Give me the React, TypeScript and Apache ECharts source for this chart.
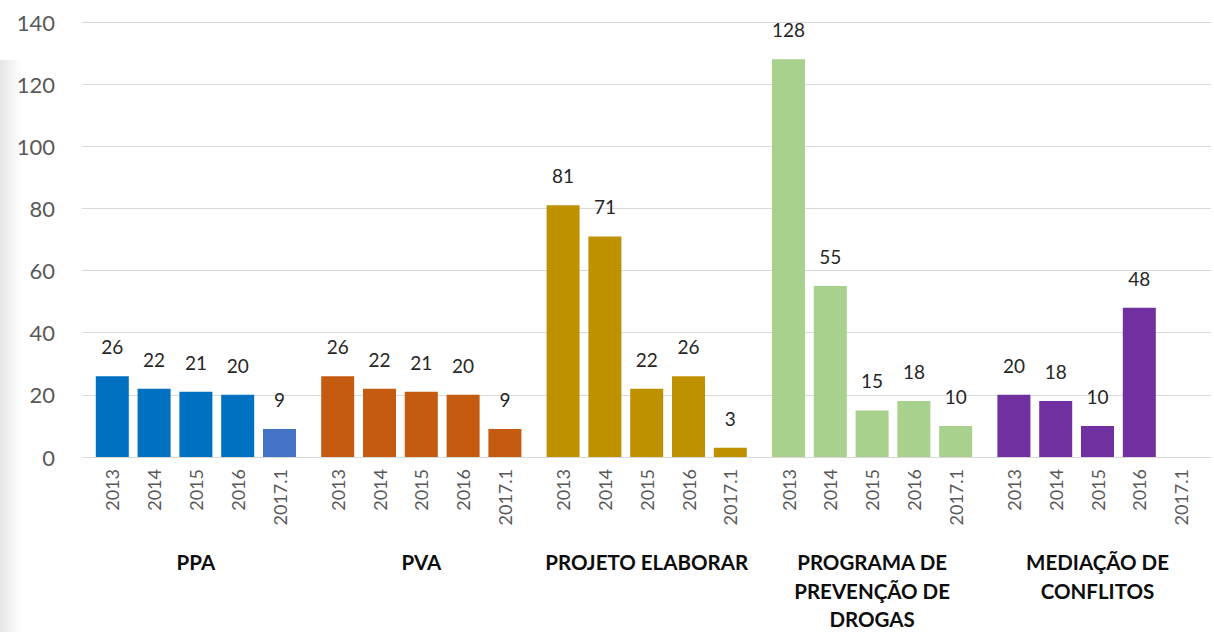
import React, { useEffect, useRef } from "react";
import * as echarts from "echarts";

const groups = [
  "PPA",
  "PVA",
  "PROJETO ELABORAR",
  "PROGRAMA DE\nPREVENÇÃO DE\nDROGAS",
  "MEDIAÇÃO DE\nCONFLITOS",
];
const years = ["2013", "2014", "2015", "2016", "2017.1"];
const ppa = [26, 22, 21, 20, 9];
const pva = [26, 22, 21, 20, 9];
const elaborar = [81, 71, 22, 26, 3];
const drogas = [128, 55, 15, 18, 10];
const mediacao = [20, 18, 10, 48, null];
const groupValues = [ppa, pva, elaborar, drogas, mediacao];
const groupColors = ["#0070C0", "#C55A11", "#BF9000", "#A9D18E", "#7030A0"];
const yTicks = { min: 0, max: 140, interval: 20 };

export default function App() {
  const ref = useRef<HTMLDivElement>(null);
  useEffect(() => {
    document.body.style.margin = "0";
    const chart = echarts.init(ref.current!, null, { renderer: "svg" });
    const top = 22;
    const bottom = 175;
    const plotLeft = 82;
    const plotRight = 3;
    const groupStep = 225.4;
    const innerOffset = 9.4;
    const innerWidth = 209;
    const font = "Lato, 'Open Sans', sans-serif";

    const grids: any[] = [
      { left: plotLeft, right: plotRight, top, bottom, outerBoundsMode: "none" },
    ];
    const xAxes: any[] = [
      {
        type: "value",
        gridIndex: 0,
        min: 0,
        max: 1,
        axisLine: { show: true, lineStyle: { color: "#d9d9d9", width: 1 } },
        axisTick: { show: false },
        axisLabel: { show: false },
        splitLine: { show: false },
      },
    ];
    const yAxes: any[] = [
      {
        type: "value",
        gridIndex: 0,
        ...yTicks,
        axisLine: { show: false },
        axisTick: { show: false },
        axisLabel: { fontSize: 22, color: "#595959", margin: 27, fontFamily: font },
        splitLine: { lineStyle: { color: "#d9d9d9", width: 1 } },
      },
    ];
    const series: any[] = [];

    groups.forEach((g, k) => {
      const idx = k + 1;
      grids.push({
        left: plotLeft + innerOffset + groupStep * k,
        width: innerWidth,
        top,
        bottom,
        outerBoundsMode: "none",
      });
      xAxes.push({
        type: "category",
        gridIndex: idx,
        data: years,
        axisLine: { show: false },
        axisTick: { show: false },
        axisLabel: {
          rotate: 90,
          margin: 12,
          fontSize: 18,
          color: "#595959",
          fontFamily: font,
          interval: 0,
        },
        name: g,
        nameLocation: "middle",
        nameGap: 91,
        nameMoveOverlap: false,
        nameTextStyle: {
          fontWeight: "bold",
          fontSize: 20.5,
          color: "#0d0d0d",
          lineHeight: 28.5,
          fontFamily: font,
          align: "center",
        },
      });
      yAxes.push({
        type: "value",
        gridIndex: idx,
        ...yTicks,
        show: false,
        splitLine: { show: false },
      });
      series.push({
        type: "bar",
        name: g,
        xAxisIndex: idx,
        yAxisIndex: idx,
        barWidth: 33,
        data: groupValues[k].map((v, i) => ({
          value: v,
          itemStyle: {
            color: k === 0 && i === 4 ? "#4472C4" : groupColors[k],
          },
        })),
        label: {
          show: true,
          position: "top",
          distance: 20,
          fontSize: 19,
          color: "#262626",
          fontFamily: font,
        },
      });
    });

    chart.setOption({
      animation: false,
      backgroundColor: "#ffffff",
      grid: grids,
      xAxis: xAxes,
      yAxis: yAxes,
      series,
      graphic: [
        {
          type: "rect",
          left: 0,
          top: 60,
          shape: { width: 22, height: 572 },
          style: {
            fill: new echarts.graphic.LinearGradient(0, 0, 1, 0, [
              { offset: 0, color: "rgba(0,0,0,0.10)" },
              { offset: 1, color: "rgba(0,0,0,0)" },
            ]),
          },
          silent: true,
          z: -1,
        },
      ],
    });
    return () => chart.dispose();
  }, []);
  return <div ref={ref} style={{ width: 1214, height: 632 }} />;
}
